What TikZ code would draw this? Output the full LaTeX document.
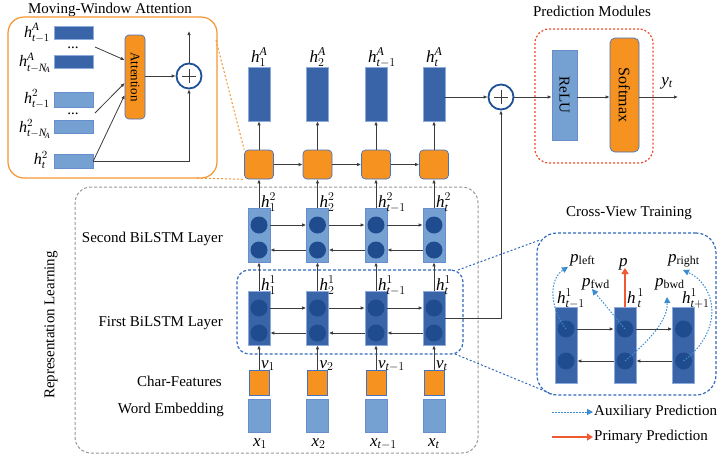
\documentclass[tikz,border=0pt]{standalone}
\usepackage{fontspec}
\setmainfont{Liberation Serif}
\usetikzlibrary{arrows.meta}
\definecolor{dkb}{RGB}{58,100,168}
\definecolor{ltb}{RGB}{117,160,210}
\definecolor{bord}{RGB}{140,170,220}
\definecolor{cir}{RGB}{30,76,142}
\definecolor{org}{RGB}{245,146,32}
\definecolor{oedge}{RGB}{68,114,196}
\definecolor{mwor}{RGB}{245,150,50}
\definecolor{pblue}{RGB}{30,80,150}
\definecolor{agray}{RGB}{60,60,60}
\definecolor{gdash}{RGB}{150,150,150}
\definecolor{bdash}{RGB}{50,105,185}
\definecolor{rdash}{RGB}{235,75,45}
\definecolor{aux}{RGB}{60,140,210}
\definecolor{prim}{RGB}{240,90,50}
\newcommand\mi[1]{\mathit{#1}}
\begin{document}
\begin{tikzpicture}[x=1pt,y=-1pt,
  dkbar/.style={draw=bord,fill=dkb,line width=0.6pt,minimum width=22pt,inner sep=0pt},
  ltbar/.style={draw=oedge!80,fill=ltb,line width=0.6pt,minimum width=22pt,inner sep=0pt},
  obox/.style={draw=oedge,fill=org,line width=0.7pt,rounded corners=4pt,inner sep=0pt},
  circ/.style={circle,fill=cir,minimum size=17pt,inner sep=0pt},
  arr/.style={draw=agray,line width=0.8pt,-{Latex[length=4pt,width=3.5pt]}},
  txt/.style={font=\fontsize{15}{17}\selectfont,inner sep=0pt},
  lbl/.style={font=\fontsize{17}{19}\selectfont,inner sep=0pt},
  mlbl/.style={font=\fontsize{16}{18}\selectfont,inner sep=0pt},
  plusc/.style={circle,draw=pblue,fill=white,line width=1.8pt,minimum size=25pt,inner sep=0pt},
  plusbar/.style={draw=agray,line width=1pt},
  gbox/.style={draw=gdash,dash pattern=on 3pt off 2pt,line width=1pt,rounded corners=16pt,inner sep=0pt},
  bbox/.style={draw=bdash,dash pattern=on 3pt off 2pt,line width=1.2pt,rounded corners=14pt,inner sep=0pt},
  rbox/.style={draw=rdash,dash pattern=on 2pt off 2pt,line width=1.2pt,rounded corners=14pt,inner sep=0pt},
  mwbox/.style={draw=mwor,line width=1.2pt,rounded corners=16pt,inner sep=0pt},
  odash/.style={draw=mwor,dash pattern=on 2pt off 2pt,line width=1pt},
  bline/.style={draw=bdash,dash pattern=on 2pt off 2pt,line width=1pt},
  auxarr/.style={draw=aux,dash pattern=on 1.5pt off 1.5pt,line width=1pt,-{Triangle[length=6pt,width=6pt]}},
  primarr/.style={draw=prim,line width=1.5pt,-{Triangle[length=6pt,width=7pt]}}
]
\useasboundingbox (0,0) rectangle (718,459);

% ---------------- titles
\node[txt] (t1) at (110,10) {Moving-Window Attention};
\node[txt] (t2) at (592,11) {Prediction Modules};
\node[txt] (t3) at (629,213) {Cross-View Training};
\node[txt,rotate=90] (t4) at (51,325) {Representation Learning};

% ---------------- big dashed frames
\node[gbox,minimum width=403pt,minimum height=266pt] (rl) at (276.5,320) {};
\node[bbox,minimum width=226pt,minimum height=84pt,rounded corners=12pt] (fl) at (350,312) {};
\node[bbox,minimum width=179pt,minimum height=162pt,rounded corners=20pt] (cv) at (626.5,314) {};
\node[rbox,minimum width=118pt,minimum height=134pt] (pm) at (594,96) {};

% ---------------- layer labels
\node[txt,anchor=east] (L1) at (223,239) {Second BiLSTM Layer};
\node[txt,anchor=east] (L2) at (223,323) {First BiLSTM Layer};
\node[txt,anchor=east] (L3) at (222,381) {Char-Features};
\node[txt,anchor=east] (L4) at (224,410) {Word Embedding};

% ---------------- columns
\foreach \i/\cx/\sb in {1/259/1,2/317.5/2,3/376/{\mi{t}-1},4/434/{\mi{t}}}{
  \node[dkbar,minimum height=54pt] (hA\i) at (\cx,94) {};
  \node[lbl,anchor=base west] (lA\i) at (\cx-8,62) {$\mi{h}^{\mi{A}}_{\sb}$};
  \node[obox,minimum size=29pt] (o\i) at (\cx,164.5) {};
  \node[ltbar,minimum height=54pt] (s\i) at (\cx,235) {};
  \node[circ] (s\i u) at (\cx,225) {};
  \node[circ] (s\i d) at (\cx,250) {};
  \node[lbl,anchor=base west] (ls\i) at (\cx+2,207) {$\mi{h}^{2}_{\sb}$};
  \node[dkbar,minimum height=54pt] (f\i) at (\cx,318) {};
  \node[circ] (f\i u) at (\cx,308) {};
  \node[circ] (f\i d) at (\cx,333) {};
  \node[lbl,anchor=base west] (lf\i) at (\cx+2,290) {$\mi{h}^{1}_{\sb}$};
  \node[obox,rounded corners=0pt,minimum width=20pt,minimum height=25pt] (c\i) at (\cx,382.5) {};
  \node[lbl,anchor=base west] (lv\i) at (\cx+2,368) {$\mi{v}_{\sb}$};
  \node[ltbar,minimum height=33pt] (w\i) at (\cx,415.5) {};
  \node[lbl,anchor=base west] (lx\i) at (\cx-6,446) {$\mi{x}_{\sb}$};
  \draw[arr] (o\i) -- (hA\i);
  \draw[arr] (s\i) -- (o\i);
  \draw[arr] (f\i) -- (s\i);
  \draw[arr] (c\i) -- (f\i);
}
\foreach \i/\j in {1/2,2/3,3/4}{
  \draw[arr] (o\i) -- (o\j);
  \draw[arr] (s\i.east |- s\i u) -- (s\j.west |- s\j u);
  \draw[arr] (s\j.west |- s\j d) -- (s\i.east |- s\i d);
  \draw[arr] (f\i.east |- f\i u) -- (f\j.west |- f\j u);
  \draw[arr] (f\j.west |- f\j d) -- (f\i.east |- f\i d);
}

% ---------------- moving-window attention
\node[mwbox,minimum width=209pt,minimum height=161pt] (mw) at (112.5,97.5) {};
\node[dkbar,minimum width=39pt,minimum height=13pt] (b1) at (73.5,32.5) {};
\node[dkbar,minimum width=39pt,minimum height=13pt] (b2) at (73.5,61.5) {};
\node[ltbar,minimum width=39pt,minimum height=15pt] (b3) at (73.5,99.5) {};
\node[ltbar,minimum width=39pt,minimum height=13pt] (b4) at (73.5,126.5) {};
\node[ltbar,minimum width=39pt,minimum height=14pt] (b5) at (73.5,161) {};
\node[txt] (d1) at (73,48) {...};
\node[txt] (d2) at (73,114) {...};
\node[mlbl,anchor=east] (m1) at (50,33) {$\mi{h}^{\mi{A}}_{\mi{t}-1}$};
\node[mlbl,anchor=east] (m2) at (51,63) {$\mi{h}^{\mi{A}}_{\mi{t}-\mi{N}_{\!\mi{A}}}$};
\node[mlbl,anchor=east] (m3) at (50,99) {$\mi{h}^{2}_{\mi{t}-1}$};
\node[mlbl,anchor=east] (m4) at (51,129) {$\mi{h}^{2}_{\mi{t}-\mi{N}_{\!\mi{A}}}$};
\node[mlbl,anchor=east] (m5) at (48,160) {$\mi{h}^{2}_{\mi{t}}$};
\node[obox,minimum width=20pt,minimum height=84pt] (attn) at (135,77) {};
\node[font=\fontsize{13}{15}\selectfont,rotate=-90,inner sep=0pt] (attnt) at (attn) {Attention};
\node[plusc] (pl1) at (189,76) {};
\draw[plusbar] (pl1.center) +(-7,0) -- +(7,0) +(0,-7) -- +(0,7);
\coordinate (a1) at (95,47);
\coordinate (a2) at (95,113);
\coordinate (mwout) at (189,31);
\draw[arr] (a1) -- (attn.west |- 0,60);
\draw[arr] (a2) -- (attn.west |- 0,83);
\draw[arr] (b5.east) -- (attn.west |- 0,95);
\draw[arr] (b5.east) -| (pl1.south);
\draw[arr] (attn.east |- pl1) -- (pl1.west);
\draw[arr] (pl1.north) -- (mwout);
\coordinate (mwc1) at (216,40);
\coordinate (mwc2) at (197,178);
\draw[odash] (mwc1) -- (o1.north west);
\draw[odash] (mwc2) -- (o1.south west);

% ---------------- main plus and prediction modules
\node[plusc] (pl2) at (501,97) {};
\draw[plusbar] (pl2.center) +(-7,0) -- +(7,0) +(0,-7) -- +(0,7);
\draw[arr] (hA4.east |- pl2) -- (pl2.west);
\draw[arr] (f4.east) -| (pl2.south);
\node[ltbar,minimum width=25pt,minimum height=90pt] (relu) at (564.5,95) {};
\node[txt,rotate=-90] (relut) at (relu) {ReLU};
\node[obox,minimum width=29pt,minimum height=114pt,rounded corners=5pt] (soft) at (624.5,95) {};
\node[font=\fontsize{16}{18}\selectfont,inner sep=0pt,rotate=-90] (softt) at (soft) {Softmax};
\coordinate (yout) at (678,97);
\draw[arr] (pl2.east) -- (relu.west |- pl2);
\draw[arr] (relu.east |- pl2) -- (soft.west |- pl2);
\draw[arr] (soft.east |- pl2) -- (yout);
\node[lbl] (yt) at (667,83) {$\mi{y}_{\mi{t}}$};

% ---------------- cross-view training
\coordinate (fl1) at (458,270);
\coordinate (cv1) at (540,240);
\coordinate (fl2) at (455,354);
\coordinate (cv2) at (552,394);
\draw[bline] (fl1) -- (cv1);
\draw[bline] (fl2) -- (cv2);
\foreach \n/\cx in {l/566,m/625,r/683.5}{
  \node[dkbar,minimum height=76pt] (cv\n) at (\cx,345) {};
  \node[circ] (cv\n u) at (\cx,329) {};
  \node[circ] (cv\n d) at (\cx,361) {};
}
\draw[arr] (cvl.east |- cvlu) -- (cvm.west |- cvmu);
\draw[arr] (cvm.east |- cvmu) -- (cvr.west |- cvru);
\draw[arr] (cvr.west |- cvrd) -- (cvm.east |- cvmd);
\draw[arr] (cvm.west |- cvmd) -- (cvl.east |- cvld);
\node[lbl,anchor=base west] (ch1) at (557,303) {$\mi{h}^{1}_{\mi{t}-1}$};
\node[lbl,anchor=base west] (ch2) at (627,303) {$\mi{h}^{\,1}_{\,\mi{t}}$};
\node[lbl,anchor=base west] (ch3) at (682,303) {$\mi{h}^{1}_{\mi{t}+1}$};
\node[lbl,anchor=base west] (pp) at (619,266) {$\mi{p}$};
\node[lbl,anchor=base west] (pleft) at (570,262) {$\mi{p}_{\mathrm{left}}$};
\node[lbl,anchor=base west] (pright) at (668,262) {$\mi{p}_{\mathrm{right}}$};
\node[lbl,anchor=base west] (pfwd) at (582,286) {$\mi{p}_{\mathrm{fwd}}$};
\node[lbl,anchor=base west] (pbwd) at (655,286) {$\mi{p}_{\mathrm{bwd}}$};
\coordinate (ptip) at (625,268);
\draw[primarr] (cvm.north) -- (ptip);
\coordinate (tl) at (568,267);
\coordinate (tf) at (592,289);
\coordinate (tb) at (667,297);
\coordinate (tr) at (683,270);
\draw[auxarr] (cvlu.center) .. controls (548,305) and (550,278) .. (tl);
\draw[auxarr] (cvmu.center) -- (tf);
\draw[auxarr] (cvmd.center) .. controls (650,340) and (668,320) .. (tb);
\draw[auxarr] (cvrd.center) .. controls (725,330) and (716,285) .. (tr);

% ---------------- legend
\coordinate (lga) at (552,412);
\coordinate (lgb) at (593,412);
\coordinate (lgc) at (552,437);
\coordinate (lgd) at (593,437);
\draw[auxarr] (lga) -- (lgb);
\draw[primarr] (lgc) -- (lgd);
\node[txt,anchor=west] (lg1) at (594,412) {Auxiliary Prediction};
\node[txt,anchor=west] (lg2) at (594,437) {Primary Prediction};
\end{tikzpicture}
\end{document}
